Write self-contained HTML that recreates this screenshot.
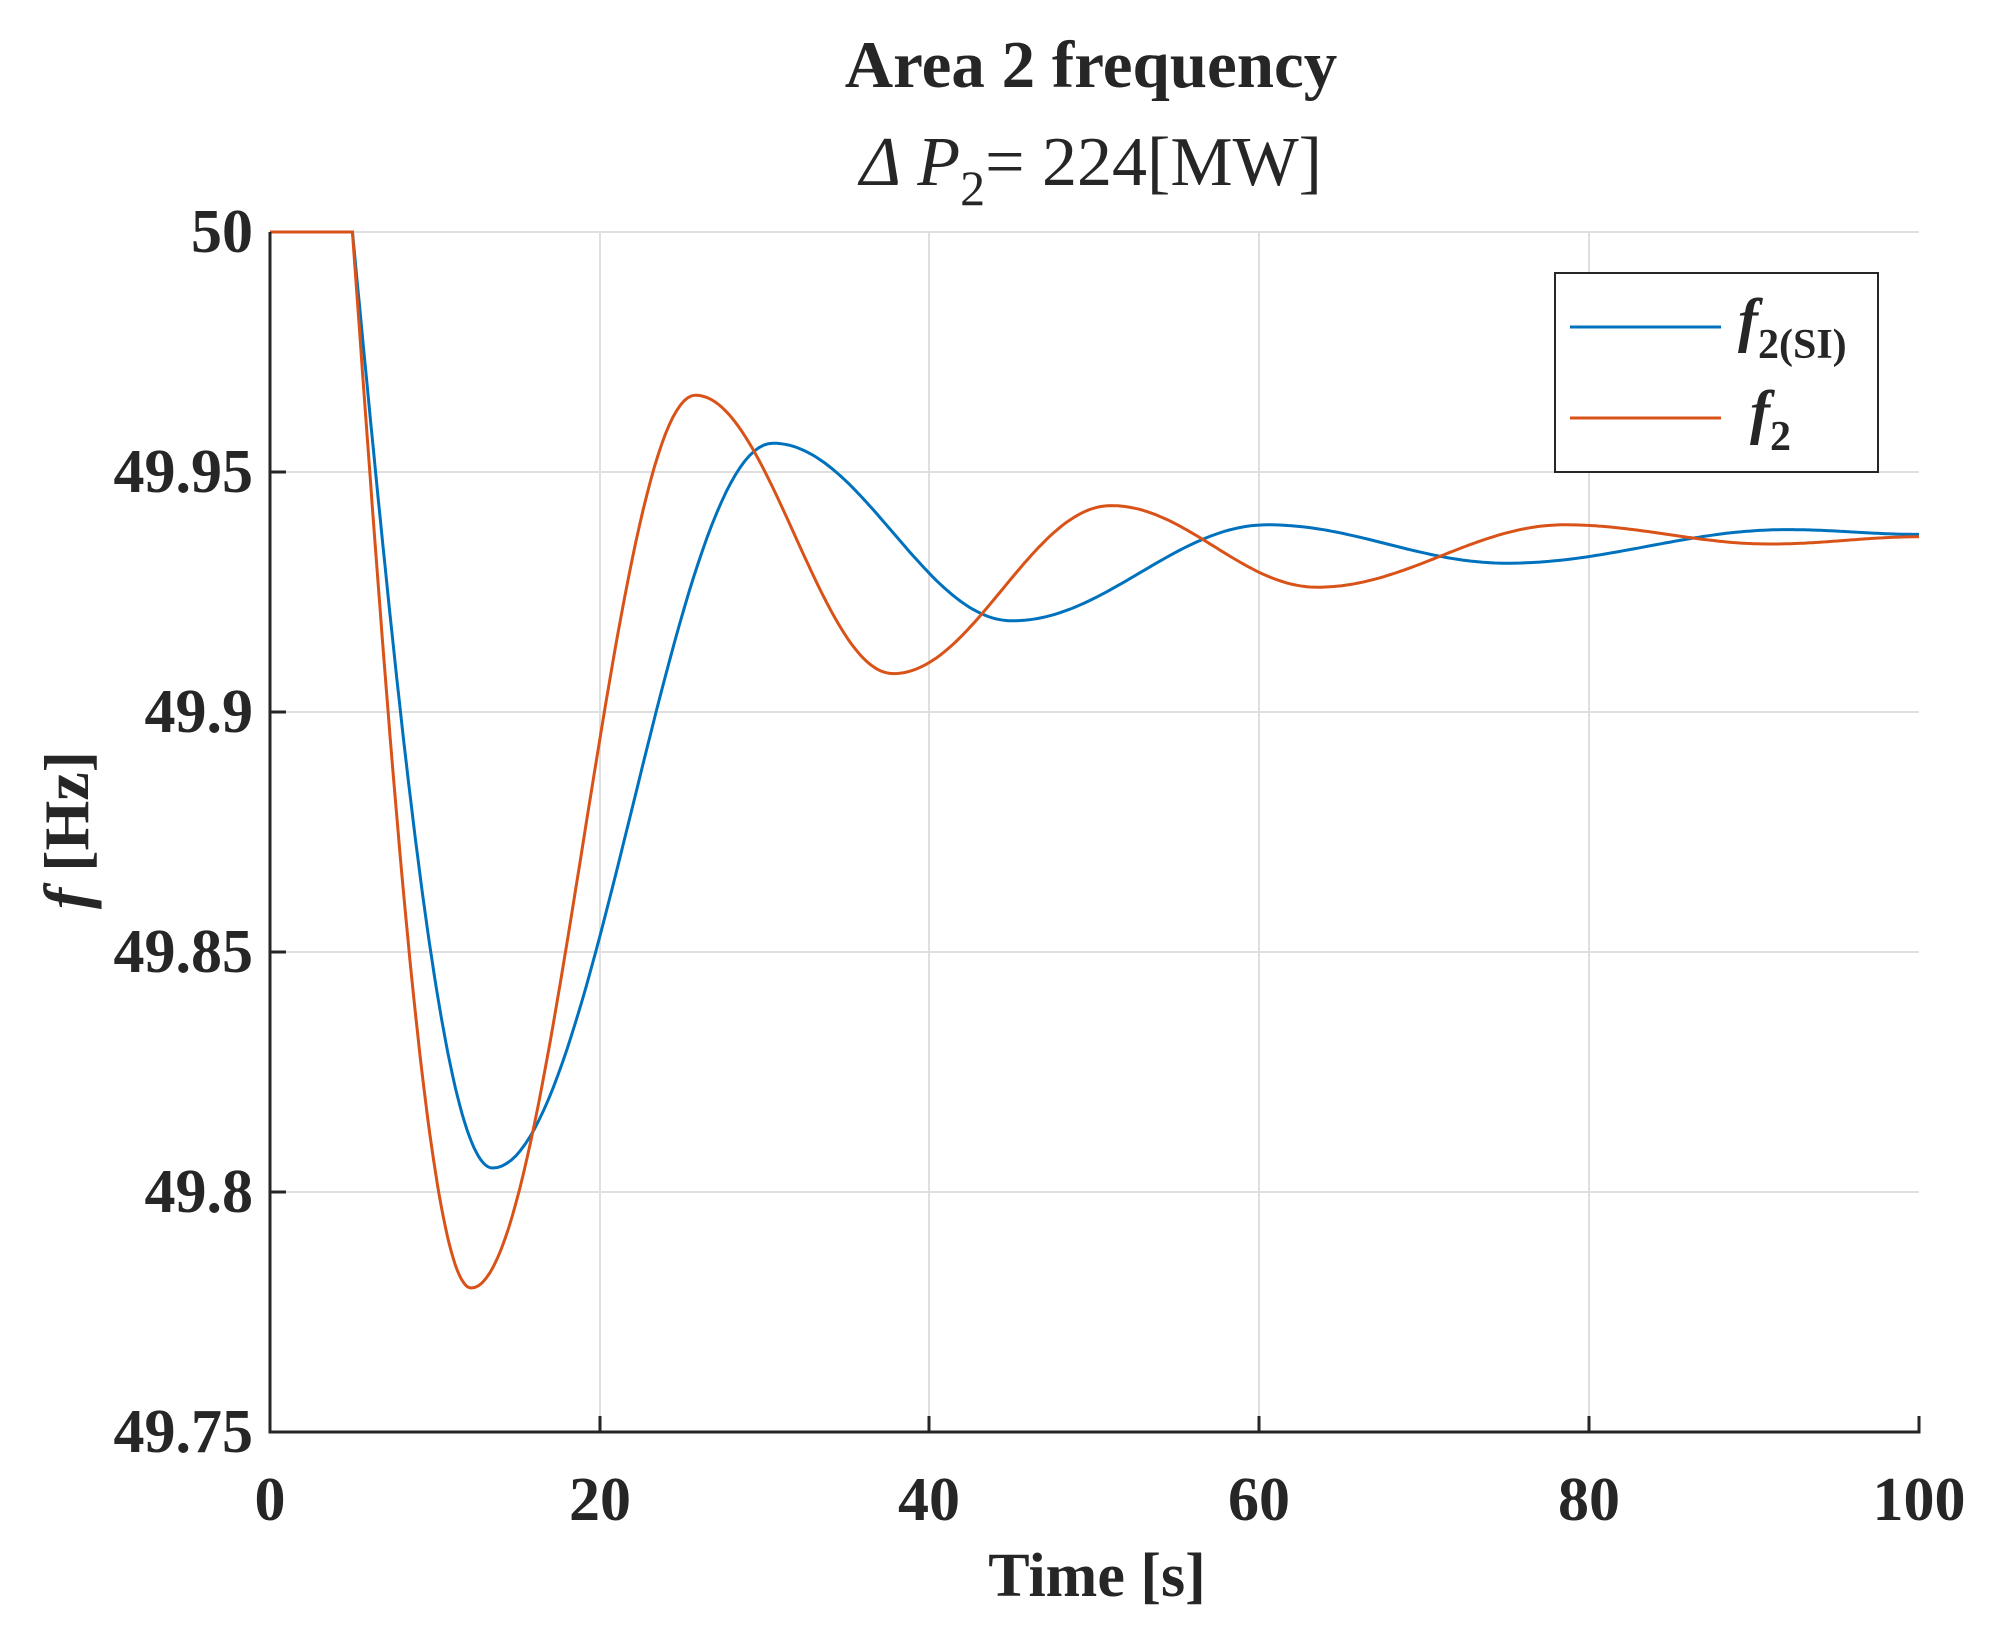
<!DOCTYPE html>
<html><head><meta charset="utf-8"><style>
body{margin:0;background:#fff}
svg{display:block}
text{font-family:"Liberation Serif",serif;fill:#262626}
</style></head><body>
<svg id="s" width="2001" height="1626" viewBox="0 0 2001 1626" xmlns="http://www.w3.org/2000/svg">
<rect width="2001" height="1626" fill="#fff"/>
<g stroke="#dfdfdf" stroke-width="2">
<line x1="600" y1="232" x2="600" y2="1432"/><line x1="929" y1="232" x2="929" y2="1432"/>
<line x1="1259" y1="232" x2="1259" y2="1432"/><line x1="1589" y1="232" x2="1589" y2="1432"/>
<line x1="270" y1="232" x2="1919" y2="232"/><line x1="270" y1="472" x2="1919" y2="472"/>
<line x1="270" y1="712" x2="1919" y2="712"/><line x1="270" y1="952" x2="1919" y2="952"/>
<line x1="270" y1="1192" x2="1919" y2="1192"/>
</g>
<path id="b" fill="none" stroke="#0072BD" stroke-width="3"/>
<path id="o" fill="none" stroke="#D95319" stroke-width="3"/>
<path d="M270,232 V1432 H1919 V1416 M600,1432 v-16 M929,1432 v-16 M1259,1432 v-16 M1589,1432 v-16 M270,472 h16 M270,712 h16 M270,952 h16 M270,1192 h16" fill="none" stroke="#262626" stroke-width="3"/>
<g font-size="62" font-weight="bold" text-anchor="end">
<text x="253" y="252">50</text><text x="253" y="492">49.95</text><text x="253" y="732">49.9</text>
<text x="253" y="972">49.85</text><text x="253" y="1212">49.8</text><text x="253" y="1452">49.75</text>
</g>
<g font-size="62" font-weight="bold" text-anchor="middle">
<text x="270" y="1520">0</text><text x="600" y="1520">20</text><text x="929" y="1520">40</text>
<text x="1259" y="1520">60</text><text x="1589" y="1520">80</text><text x="1919" y="1520">100</text>
<text x="1097" y="1596">Time [s]</text>
</g>
<text x="1091" y="87" font-size="67" font-weight="bold" text-anchor="middle">Area 2 frequency</text>
<text x="1091" y="185" font-size="70" text-anchor="middle"><tspan font-style="italic">Δ P</tspan><tspan font-size="50" dy="20">2</tspan><tspan dy="-20">= 224[MW]</tspan></text>
<text transform="translate(88,830) rotate(-90)" font-size="64" font-weight="bold" text-anchor="middle"><tspan font-style="italic">f</tspan> [Hz]</text>
<rect x="1555" y="273" width="323" height="199" fill="#fff" stroke="#262626" stroke-width="2"/>
<line x1="1570" y1="327" x2="1721" y2="327" stroke="#0072BD" stroke-width="3"/>
<line x1="1570" y1="418" x2="1721" y2="418" stroke="#D95319" stroke-width="3"/>
<text x="1738" y="340" font-size="60" font-weight="bold"><tspan font-style="italic">f</tspan><tspan font-size="42" dy="18">2(SI)</tspan></text>
<text x="1750" y="432" font-size="60" font-weight="bold"><tspan font-style="italic">f</tspan><tspan font-size="42" dy="18">2</tspan></text>
</svg>
<script>
function X(t){return 270+16.49*t}
function Y(f){return 232+4800*(50-f)}
function build(ext){
 var d="M"+X(0)+","+Y(50)+" L"+X(5)+","+Y(50);
 for(var i=1;i<ext.length;i++){
  var a=ext[i-1],b=ext[i];
  for(var k=1;k<=60;k++){
   var s=k/60,t=a[0]+(b[0]-a[0])*s,f;
   if(i==1) f=a[1]+(b[1]-a[1])*Math.sin(Math.PI/2*s);
   else f=a[1]+(b[1]-a[1])*(1-Math.cos(Math.PI*s))/2;
   d+=" L"+X(t).toFixed(1)+","+Y(f).toFixed(1);
  }
 }
 return d;
}
document.getElementById("b").setAttribute("d",build([[5,50],[13.5,49.805],[30.5,49.956],[45,49.919],[60.5,49.939],[75,49.931],[92,49.938],[100,49.937]]));
document.getElementById("o").setAttribute("d",build([[5,50],[12.2,49.78],[25.8,49.966],[37.8,49.908],[51,49.943],[63.5,49.926],[78.5,49.939],[91,49.935],[100,49.9365]]));
</script>
</body></html>
